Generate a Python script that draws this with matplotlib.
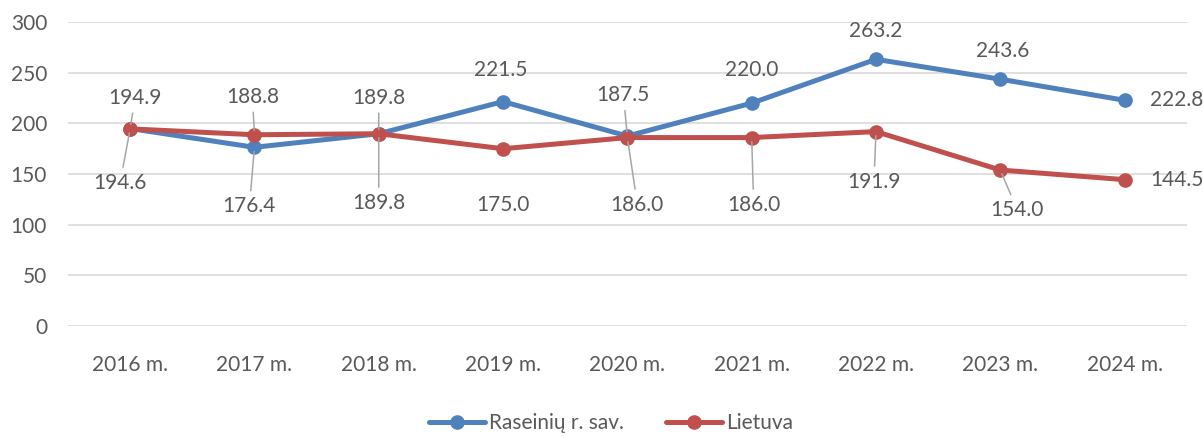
import matplotlib.pyplot as plt

# Data
years = ['2016 m.', '2017 m.', '2018 m.', '2019 m.', '2020 m.',
         '2021 m.', '2022 m.', '2023 m.', '2024 m.']
raseiniai = [194.9, 176.4, 189.8, 221.5, 187.5, 220.0, 263.2, 243.6, 222.8]
lietuva = [194.6, 188.8, 189.8, 175.0, 186.0, 186.0, 191.9, 154.0, 144.5]

# label offsets in pixels (dx, dy) and whether a leader line is drawn
ras_off = [(5, 31), (-5, -59), (0, 36), (-2, 32), (-4, 41), (0, 33), (0, 28), (2, 28), (52, 0)]
ras_lead = [True, True, True, False, True, False, False, False, False]
lt_off = [(-10, -54), (-2, 38), (0, -69), (0, -56), (10, -67), (2, -67), (-2, -50), (17, -40), (52, 0)]
lt_lead = [True, True, True, False, True, True, True, True, False]

plt.rcParams['font.family'] = ['Lato', 'DejaVu Sans']
txt = '#595959'
fs = 15

fig = plt.figure(figsize=(12.03, 4.36), dpi=100)
ax = fig.add_axes([0.0565, 0.252, 0.93, 0.6975])

x = list(range(len(years)))
ax.plot(x, raseiniai, color='#4f81bd', lw=3.6, marker='o', ms=9.5,
        label='Raseinių r. sav.', zorder=3, solid_capstyle='round')
ax.plot(x, lietuva, color='#c0504d', lw=3.6, marker='o', ms=9.5,
        label='Lietuva', zorder=4, solid_capstyle='round')


def put_labels(vals, offs, leads):
    for i, (v, (dx, dy), ld) in enumerate(zip(vals, offs, leads)):
        ap = None
        if ld:
            ap = dict(arrowstyle='-', color='#a6a6a6', lw=1.1, shrinkA=2, shrinkB=3)
        ax.annotate(f'{v:.1f}', xy=(i, v), xytext=(dx, dy), textcoords='offset pixels',
                    ha='center', va='center', fontsize=fs, color=txt,
                    arrowprops=ap, zorder=5, annotation_clip=False)


put_labels(raseiniai, ras_off, ras_lead)
put_labels(lietuva, lt_off, lt_lead)

ax.set_xlim(-0.5, 8.5)
ax.set_ylim(0, 300)
ax.set_yticks(range(0, 301, 50))
ax.set_xticks(x)
ax.set_xticklabels(years)
ax.grid(axis='y', color='#d9d9d9', lw=1.2)
ax.set_axisbelow(True)
for s in ax.spines.values():
    s.set_visible(False)
ax.tick_params(length=0, labelsize=fs, labelcolor=txt)
ax.tick_params(axis='x', pad=21)
ax.tick_params(axis='y', pad=15)

fig.legend(loc='center', bbox_to_anchor=(0.508, 0.03), ncol=2, frameon=False,
           fontsize=fs, labelcolor=txt, handlelength=2.7, handletextpad=0.2,
           columnspacing=2.0)

fig.savefig('out.png', dpi=100)
